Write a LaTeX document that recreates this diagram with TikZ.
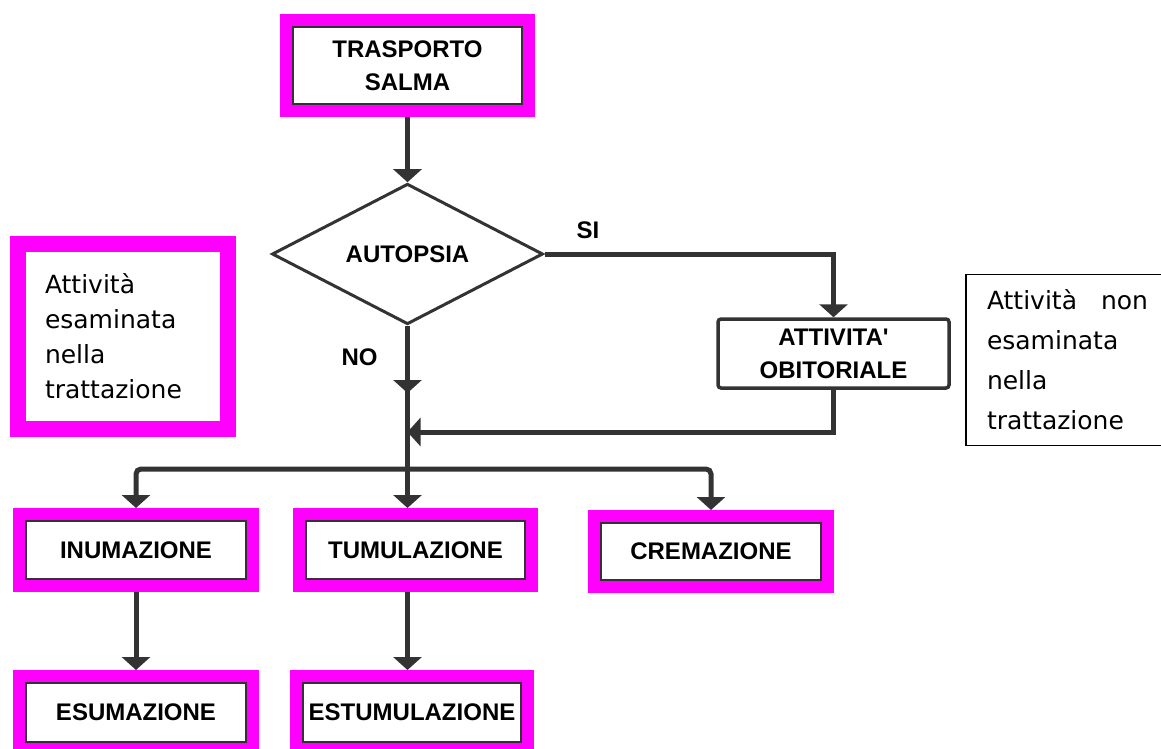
\documentclass[tikz,border=0pt]{standalone}
\usepackage{fontspec}
\setmainfont{Liberation Sans}
\newfontfamily\legendfont{DejaVu Sans}
\usetikzlibrary{shapes.geometric,arrows.meta}
\definecolor{frame}{RGB}{255,0,255}
\definecolor{ink}{RGB}{51,51,51}
\begin{document}
\begin{tikzpicture}[x=1pt,y=-1pt,
lbl/.style={font=\bfseries\fontsize{24}{33}\selectfont,align=center},
box/.style={lbl,rectangle,draw=ink,line width=1.5pt,fill=white,inner sep=0pt},
exam/.style={box,outer sep=13pt,preaction={draw=frame,line width=26pt}},
legend/.style={rectangle,fill=white,align=left,inner ysep=0pt},
line/.style={draw=ink,line width=5pt},
arrow/.style={line,-{Triangle[width=28pt,length=13pt]}}]
 \path[use as bounding box,fill=white] (0,0) rectangle (1161,749);
 \node[exam,minimum width=229pt,minimum height=77pt] (salma) at (407.5,65.5)
 {TRASPORTO\\SALMA};
 \node[lbl,diamond,draw=ink,line width=3pt,fill=white,inner sep=0pt,
 minimum width=271pt,minimum height=128pt] (autopsia) at (407.5,254) {AUTOPSIA};
 \node[box,line width=3.5pt,rounded corners=3pt,minimum width=231pt,
 minimum height=69pt] (obitoriale) at (833.5,353.5)
 {ATTIVITA\textquotesingle\\OBITORIALE};
 \node[lbl] (si) at (588,230) {SI};
 \node[lbl] (no) at (359.5,357) {NO};
 \node[exam,minimum width=220pt,minimum height=58pt] (inum) at (136,550) {INUMAZIONE};
 \node[exam,minimum width=219pt,minimum height=58pt] (tumul) at (415.5,550) {TUMULAZIONE};
 \node[exam,minimum width=220pt,minimum height=57pt] (crem) at (711,551.5) {CREMAZIONE};
 \node[exam,minimum width=220pt,minimum height=59pt] (esum) at (136,712.5) {ESUMAZIONE};
 \node[exam,minimum width=218pt,minimum height=59pt] (estum) at (412,712.5) {ESTUMULAZIONE};
 \node[legend,preaction={draw=frame,line width=32pt},text width=156pt,inner xsep=19pt,
 minimum height=169pt,font=\legendfont\fontsize{25}{35}\selectfont] (examined)
 at (123,336.5) {Attività\\esaminata\\nella\\trattazione};
 \node[legend,draw=black,line width=1.2pt,text width=161pt,inner xsep=21pt,
 minimum height=171pt,font=\legendfont\fontsize{25}{40}\selectfont] (notexamined)
 at (1067.5,360) {Attività\hspace{0pt plus 1filll}non\\esaminata\\nella\\trattazione};
 \coordinate (mid) at (407.5,393);
 \coordinate (merge) at (407.5,432);
 \coordinate (split) at (407.5,469);
 \draw[arrow] (salma) -- (autopsia);
 \draw[arrow] (autopsia.east) -| (obitoriale.north);
 \draw[line] (autopsia.south) -- (split);
 \draw[arrow] (autopsia.south) -- (mid);
 \draw[arrow] (obitoriale.south) |- (merge);
 \draw[arrow] (split) -- (split |- tumul.north);
 \foreach \b in {inum,crem}
 \draw[arrow,rounded corners=5pt] (split) -| (\b.north);
 \draw[arrow] (inum) -- (esum);
 \draw[arrow] (split |- tumul.south) -- (split |- estum.north);
\end{tikzpicture}
\end{document}
